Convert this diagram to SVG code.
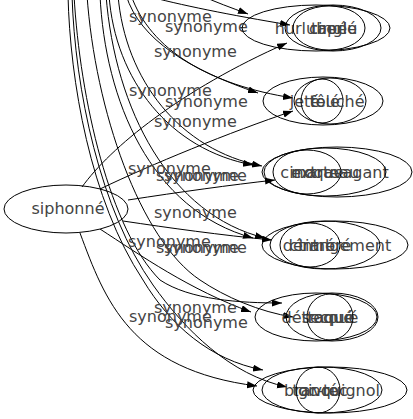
<svg xmlns="http://www.w3.org/2000/svg" width="413" height="419" viewBox="0 0 413 419">
<style>
.node ellipse{fill:none;stroke:#000;stroke-width:1}
text{font-family:"DejaVu Sans","Liberation Sans",sans-serif;font-size:16px;fill:#444}
.node text{text-anchor:middle}
.edge path{fill:none;stroke:#000;stroke-width:1}
</style>
<defs>
<marker id="ah" markerUnits="userSpaceOnUse" markerWidth="11" markerHeight="8" refX="10" refY="3.5" orient="auto">
<path d="M0,0 L10,3.5 L0,7 z" fill="#000"/>
</marker>
</defs>
<rect width="413" height="419" fill="#fff"/>
<g id="connectors" class="edge">
<path d="M82,187 C110,148 180,90 287,43" marker-end="url(#ah)"/>
<path d="M100,189 C150,165 230,132 293,111" marker-end="url(#ah)"/>
<path d="M128,200 C180,192 230,185 275,180" marker-end="url(#ah)"/>
<path d="M123,221 C170,228 220,235 272,240" marker-end="url(#ah)"/>
<path d="M100,229 C140,255 190,290 251,312" marker-end="url(#ah)"/>
<path d="M80,233 C105,300 130,370 257,386" marker-end="url(#ah)"/>
<path d="M68,-5 C70,80 90,200 143,280 C170,325 210,360 263,370" marker-end="url(#ah)"/>
<path d="M72,-5 C75,90 100,210 153,285 C185,330 230,375 287,387" marker-end="url(#ah)"/>
<path d="M74,-5 C80,100 110,230 160,280 C190,300 240,303 282,303" marker-end="url(#ah)"/>
<path d="M87,-5 C95,110 140,240 200,280 C225,297 260,312 293,317" marker-end="url(#ah)"/>
<path d="M100,-5 C105,100 150,210 253,238" marker-end="url(#ah)"/>
<path d="M106,-5 C115,110 170,215 265,238" marker-end="url(#ah)"/>
<path d="M109,-5 C115,80 170,150 253,165" marker-end="url(#ah)"/>
<path d="M118,-5 C125,80 180,150 262,166" marker-end="url(#ah)"/>
<path d="M126,-5 C140,40 190,70 258,93" marker-end="url(#ah)"/>
<path d="M131,-5 C150,50 210,85 293,98" marker-end="url(#ah)"/>
<path d="M143,-5 C180,5 230,15 290,25" marker-end="url(#ah)"/>
<path d="M200,-5 C215,2 232,8 248,14" marker-end="url(#ah)"/>
<text x="129" y="22">synonyme</text>
<text x="165" y="32">synonyme</text>
<text x="154" y="57">synonyme</text>
<text x="129" y="96">synonyme</text>
<text x="165" y="107">synonyme</text>
<text x="154" y="127">synonyme</text>
<text x="128" y="174">synonyme</text>
<text x="156" y="181">synonyme</text>
<text x="164" y="181">synonyme</text>
<text x="154" y="218">synonyme</text>
<text x="128" y="247">synonyme</text>
<text x="156" y="253">synonyme</text>
<text x="164" y="253">synonyme</text>
<text x="154" y="313">synonyme</text>
<text x="129" y="322">synonyme</text>
<text x="165" y="328">synonyme</text>
</g>
<g id="siphonne" class="node"><ellipse cx="66" cy="209" rx="62" ry="24"/><text x="68" y="214">siphonné</text></g>
<g id="hurluberlu" class="node"><ellipse cx="316" cy="28" rx="74" ry="23"/><text x="316" y="34">hurluberlu</text></g>
<g id="cingle" class="node"><ellipse cx="333" cy="28" rx="48" ry="23"/><text x="333" y="34">cinglé</text></g>
<g id="tape" class="node"><ellipse cx="329" cy="28" rx="36" ry="22"/><text x="329" y="34">tapé</text></g>
<g id="jete" class="node"><ellipse cx="323" cy="101" rx="60" ry="24"/><text x="305" y="107">jeté</text></g>
<g id="fele" class="node"><ellipse cx="330" cy="101" rx="36" ry="23"/><text x="325" y="107">fêlé</text></g>
<g id="touche" class="node"><ellipse cx="322" cy="101" rx="21" ry="22"/><text x="337" y="107">touché</text></g>
<g id="extravagant" class="node"><ellipse cx="337" cy="172" rx="75" ry="25"/><text x="340" y="178">extravagant</text></g>
<g id="marteau" class="node"><ellipse cx="325" cy="172" rx="61" ry="24"/><text x="325" y="178">marteau</text></g>
<g id="cinoque" class="node"><ellipse cx="307" cy="172" rx="34" ry="22"/><text x="312" y="178">cinoque</text></g>
<g id="derangement" class="node"><ellipse cx="335" cy="245" rx="73" ry="24"/><text x="337" y="251">dérangement</text></g>
<g id="timbre" class="node"><ellipse cx="325" cy="245" rx="55" ry="24"/><text x="325" y="251">timbré</text></g>
<g id="cintre" class="node"><ellipse cx="310" cy="245" rx="30" ry="22"/><text x="312" y="251">cintré</text></g>
<g id="detraque" class="node"><ellipse cx="316" cy="317" rx="61" ry="24"/><text x="318" y="323">détraqué</text></g>
<g id="secoue" class="node"><ellipse cx="332" cy="317" rx="46" ry="24"/><text x="330" y="323">secoué</text></g>
<g id="toque" class="node"><ellipse cx="330" cy="317" rx="23" ry="23"/><text x="330" y="323">toqué</text></g>
<g id="branquignol" class="node"><ellipse cx="330" cy="390" rx="77" ry="23"/><text x="332" y="396">branquignol</text></g>
<g id="toctoc" class="node"><ellipse cx="322" cy="390" rx="60" ry="23"/><text x="320" y="396">toc-toc</text></g>
<g id="givre" class="node"><ellipse cx="318" cy="390" rx="22" ry="23"/><text x="318" y="396">givré</text></g>
</svg>
